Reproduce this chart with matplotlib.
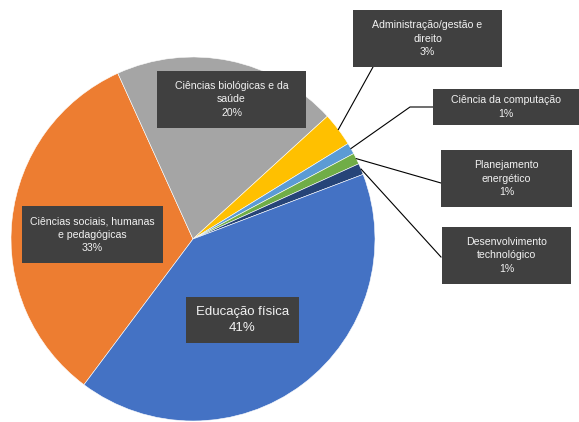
import matplotlib.pyplot as plt
import numpy as np
from matplotlib.patches import Rectangle

# data, in the order the slices are drawn (clockwise)
categories = ["Ciências sociais, humanas\ne pedagógicas",
              "Ciências biológicas e da\nsaúde",
              "Administração/gestão e\ndireito",
              "Ciência da computação",
              "Planejamento\nenergético",
              "Desenvolvimento\ntechnológico",
              "Educação física"]
shares = [33, 20, 3, 1, 1, 1, 41]
colors = ["#ED7D31", "#A5A5A5", "#FFC000", "#5B9BD5", "#70AD47", "#264478", "#4472C4"]

W, H = 579, 422
CX, CY, R = 193, H - 239, 182

# label boxes in pixel coords (x0, y0_top, x1, y1_bottom), font size, leader anchor on box
boxes = [
    ((22, 206, 163, 263), 7.6, None),
    ((157, 71, 306, 128), 7.6, None),
    ((353, 10, 502, 67), 7.6, [(373, 67)]),
    ((433, 89, 579, 125), 7.6, [(433, 107), (410, 107)]),
    ((441, 150, 572, 207), 7.6, [(441, 183)]),
    ((442, 227, 571, 284), 7.6, [(441, 257)]),
    ((186, 297, 299, 343), 9.5, None),
]

fig = plt.figure(figsize=(W / 100, H / 100), dpi=100)
ax = fig.add_axes([0, 0, 1, 1])

wedges, _ = ax.pie(shares, colors=colors, startangle=233.2, counterclock=False,
                   center=(CX, CY), radius=R, frame=True,
                   wedgeprops=dict(edgecolor="white", linewidth=0.4))
ax.set_xlim(0, W)
ax.set_ylim(0, H)
ax.set_aspect("equal")
ax.axis("off")

for w, name, val, (box, fs, leader) in zip(wedges, categories, shares, boxes):
    x0, y0, x1, y1 = box
    ax.add_patch(Rectangle((x0, H - y1), x1 - x0, y1 - y0, facecolor="#404040",
                           edgecolor="none", zorder=3))
    ax.text((x0 + x1) / 2, H - (y0 + y1) / 2, f"{name}\n{val}%", ha="center", va="center",
            color="#F2F2F2", fontsize=fs, family="Liberation Sans", linespacing=1.38, zorder=4)
    if leader:
        mid = np.deg2rad((w.theta1 + w.theta2) / 2)
        end = (CX + R * np.cos(mid), CY + R * np.sin(mid))
        xs = [p[0] for p in leader] + [end[0]]
        ys = [H - p[1] for p in leader] + [end[1]]
        ax.plot(xs, ys, color="black", linewidth=0.8, zorder=2)

fig.savefig("out.png", dpi=100)
